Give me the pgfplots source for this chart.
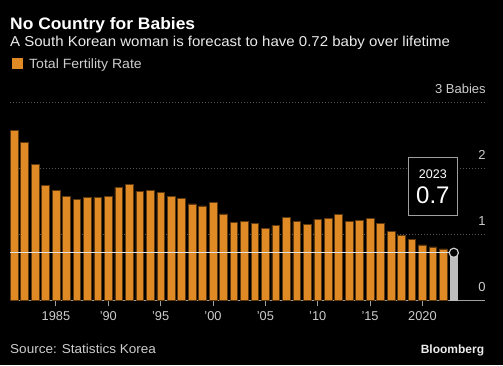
\documentclass[border=0pt]{standalone}
\usepackage{pgfplots}
\pgfplotsset{compat=1.18}
\usepackage{fontspec}
\setmainfont{Liberation Sans}
\newfontfamily\wide{Liberation Sans}[FakeStretch=1.05]
\definecolor{barfill}{RGB}{224,138,38}
\definecolor{baredge}{RGB}{95,58,16}
\definecolor{txt}{RGB}{205,205,205}
\definecolor{gridc}{RGB}{85,85,85}
\begin{document}
\begin{tikzpicture}
\fill[black] (0pt,0pt) rectangle (503pt,365pt);
% titles
\node[anchor=base west, inner sep=0pt, text=white, font=\wide\bfseries\fontsize{16.6}{18}\selectfont] at (10pt,335.7pt) {No Country for Babies};
\node[anchor=base west, inner sep=0pt, text=white!92!black, font=\wide\fontsize{14.3}{16}\selectfont] at (10pt,318.3pt) {A South Korean woman is forecast to have 0.72 baby over lifetime};
\fill[barfill] (12pt,295.5pt) rectangle (22.7pt,306.5pt);
\node[anchor=base west, inner sep=0pt, text=txt, font=\wide\fontsize{13.4}{15}\selectfont] at (29pt,296.7pt) {Total Fertility Rate};
% footer
\node[anchor=base west, inner sep=0pt, text=txt, font=\wide\fontsize{12.9}{14}\selectfont] at (10pt,11.7pt) {Source: Statistics Korea};
\node[anchor=base east, inner sep=0pt, text=white!92!black, font=\bfseries\fontsize{12}{14}\selectfont] at (484.3pt,11.7pt) {Bloomberg};
\begin{axis}[
  at={(10pt,64.7pt)}, anchor=south west,
  scale only axis, width=475pt, height=198pt,
  xmin=1980.61, xmax=2025.98, ymin=0, ymax=3,
  clip=false,
  axis x line=bottom, axis y line=right,
  x axis line style={draw=gray!75, line width=1.3pt, -},
  y axis line style={draw=none},
  ytick={1,2,3}, yticklabels={}, y tick style={draw=none},
  ymajorgrids,
  grid style={draw=gridc, line width=0.9pt, dash pattern=on 1.4pt off 1.6pt},
  xtick={1985,1990,1995,2000,2005,2010,2015,2020},
  xticklabels={1985,'90,'95,'00,'05,'10,'15,2020},
  tick align=outside,
  x tick style={draw=gray!75, line width=1pt},
  major tick length=6pt,
  xticklabel style={text=txt, font=\fontsize{12.8}{14}\selectfont, anchor=base, yshift=-14pt},
]
\addplot[ybar, bar shift=0pt, bar width=7.7pt, fill=barfill, draw=baredge, line width=0.6pt] coordinates {
(1981,2.57) (1982,2.39) (1983,2.06) (1984,1.74) (1985,1.66) (1986,1.58) (1987,1.53)
(1988,1.56) (1989,1.56) (1990,1.57) (1991,1.71) (1992,1.76) (1993,1.65) (1994,1.66)
(1995,1.63) (1996,1.57) (1997,1.54) (1998,1.46) (1999,1.43) (2000,1.48) (2001,1.31)
(2002,1.18) (2003,1.19) (2004,1.16) (2005,1.09) (2006,1.13) (2007,1.26) (2008,1.19)
(2009,1.15) (2010,1.23) (2011,1.24) (2012,1.30) (2013,1.19) (2014,1.21) (2015,1.24)
(2016,1.17) (2017,1.05) (2018,0.98) (2019,0.92) (2020,0.84) (2021,0.81) (2022,0.78)
};
\addplot[ybar, bar shift=0pt, bar width=7.7pt, fill=white!74!black, draw=white!74!black, line width=0.6pt] coordinates {(2023,0.72)};
\addplot[white!88!black, line width=0.9pt] coordinates {(1980.61,0.72) (2023,0.72)};
\addplot[only marks, mark=*, mark size=4.6pt, mark options={fill=black, draw=white!80!black, line width=1.2pt}] coordinates {(2023,0.72)};
% annotation
\draw[draw=gray!75, line width=1.5pt, fill=black] (axis cs:2018.65,1.288) rectangle (axis cs:2023.37,2.167);
\node[text=white, font=\fontsize{12.5}{14}\selectfont] at (axis cs:2021.0,1.915) {2023};
\node[text=white, font=\fontsize{24}{26}\selectfont] at (axis cs:2021.0,1.59) {0.7};
% y labels
\node[anchor=base east, inner sep=0pt, text=txt, font=\fontsize{13}{15}\selectfont, yshift=9pt] at (axis cs:2026.06,0) {0};
\node[anchor=base east, inner sep=0pt, text=txt, font=\fontsize{13}{15}\selectfont, yshift=9pt] at (axis cs:2026.06,1) {1};
\node[anchor=base east, inner sep=0pt, text=txt, font=\fontsize{13}{15}\selectfont, yshift=9pt] at (axis cs:2026.06,2) {2};
\node[anchor=base east, inner sep=0pt, text=txt, font=\fontsize{13}{15}\selectfont, yshift=9pt] at (axis cs:2026.06,3) {3 Babies};
\end{axis}
\end{tikzpicture}
\end{document}
